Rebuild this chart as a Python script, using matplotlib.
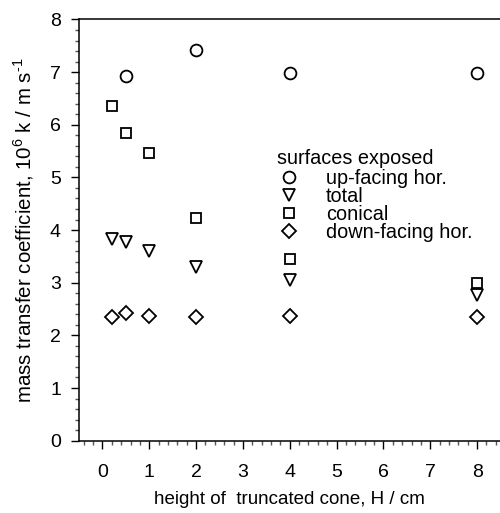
import matplotlib.pyplot as plt
from matplotlib.ticker import MultipleLocator

plt.rcParams['font.family'] = ['Liberation Sans', 'DejaVu Sans']
plt.rcParams['mathtext.fontset'] = 'custom'
plt.rcParams['mathtext.rm'] = 'Liberation Sans'

# heights of truncated cone, H / cm
h_up = [0.5, 2, 4, 8]
k_up = [6.92, 7.43, 6.99, 6.99]

h_all = [0.2, 0.5, 1, 2, 4, 8]
k_total = [3.84, 3.77, 3.61, 3.30, 3.05, 2.76]
k_conical = [6.35, 5.84, 5.46, 4.22, 3.46, 2.99]
k_down = [2.34, 2.42, 2.37, 2.34, 2.37, 2.34]

fig = plt.figure(figsize=(5, 5.13), dpi=100)
ax = fig.add_axes([0.158, 0.141, 0.843, 0.821])

mk = dict(linestyle='none', markerfacecolor='white', markeredgecolor='black', markeredgewidth=1.3)
ax.plot(h_up, k_up, marker='o', markersize=8.5, label='up-facing hor.', **mk)
ax.plot(h_all, k_total, marker='v', markersize=8.5, label='total', **mk)
ax.plot(h_all, k_conical, marker='s', markersize=7.5, label='conical', **mk)
ax.plot(h_all, k_down, marker='D', markersize=7, label='down-facing hor.', **mk)

ax.set_xlim(-0.5, 8.5)
ax.set_ylim(0, 8)
ax.xaxis.set_major_locator(MultipleLocator(1))
ax.xaxis.set_minor_locator(MultipleLocator(0.2))
ax.yaxis.set_major_locator(MultipleLocator(1))
ax.yaxis.set_minor_locator(MultipleLocator(0.2))
ax.tick_params(which='major', direction='out', length=6, width=1, labelsize=14)
ax.tick_params(which='minor', direction='out', length=3, width=1, color='#555555')
ax.tick_params(axis='x', which='major', pad=11)
ax.tick_params(axis='y', which='major', pad=7)
ax.spines['right'].set_visible(False)
for s in ['left', 'bottom', 'top']:
    ax.spines[s].set_linewidth(1.1)

ax.set_xlabel('height of  truncated cone, H / cm', fontsize=13.5, labelpad=7)
ax.set_ylabel('mass transfer coefficient, 10$^{6}$ k / m s$^{\\text{-}1}$',
              fontsize=14.8, labelpad=10)

ax.text(0.47, 0.671, 'surfaces exposed', transform=ax.transAxes, fontsize=14.3,
        ha='left', va='center')
ax.legend(loc='upper left', bbox_to_anchor=(0.47, 0.645),
          frameon=False, fontsize=14.3, handlelength=1.2,
          handletextpad=1.25, labelspacing=-0.05, borderpad=0, borderaxespad=0)

fig.savefig('out.png', dpi=100)
